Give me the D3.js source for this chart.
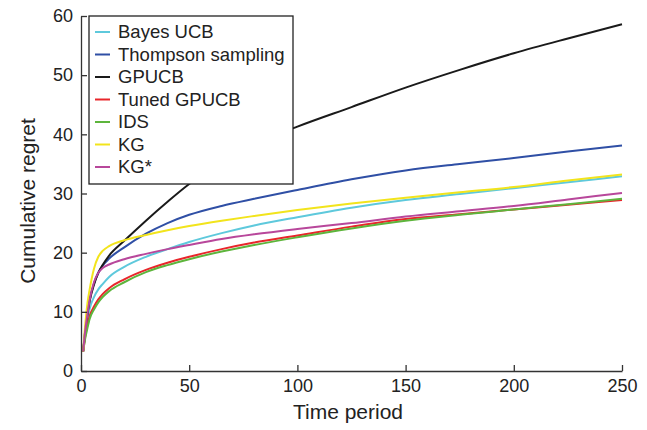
<!DOCTYPE html>
<html>
<head>
<meta charset="utf-8">
<script src="https://cdn.jsdelivr.net/npm/d3@7"></script>
<style>
  body { margin: 0; background: #fff; }
  text { font-family: Arial, "Liberation Sans", Helvetica, sans-serif; fill: #222; }
</style>
</head>
<body>
<div class="chart"></div>
<script>
const periods = [1, 2, 3, 4, 6, 8, 10, 13, 20, 30, 40, 50, 65, 80, 100, 125, 150, 175, 200, 225, 250];

const bayesUCB   = [3.3, 6.5, 8.7, 10.5, 12.5, 13.8, 14.7, 15.9, 17.6, 19.3, 20.6, 21.8, 23.3, 24.6, 26.0, 27.6, 28.9, 29.9, 30.9, 31.9, 32.9];
const thompson   = [3.3, 7.0, 9.8, 12.0, 14.8, 16.6, 17.8, 19.0, 20.9, 23.2, 25.0, 26.4, 27.9, 29.1, 30.6, 32.4, 33.9, 35.0, 36.0, 37.1, 38.1];
const gpucb      = [3.3, 6.8, 9.6, 11.8, 14.6, 16.6, 17.9, 19.5, 22.0, 25.4, 28.6, 31.6, 35.2, 38.3, 41.3, 44.6, 47.9, 50.9, 53.7, 56.2, 58.6];
const tunedGPUCB = [3.3, 6.0, 7.8, 9.3, 10.9, 12.1, 13.0, 14.0, 15.5, 17.1, 18.3, 19.3, 20.6, 21.7, 22.9, 24.4, 25.7, 26.5, 27.3, 28.1, 28.9];
const ids        = [3.3, 5.6, 7.3, 8.8, 10.4, 11.6, 12.5, 13.5, 15.0, 16.7, 17.9, 18.9, 20.2, 21.3, 22.6, 24.1, 25.4, 26.4, 27.3, 28.2, 29.1];
const kg         = [3.3, 8.0, 11.5, 13.8, 17.3, 19.3, 20.3, 21.1, 22.1, 23.0, 23.8, 24.5, 25.4, 26.2, 27.2, 28.3, 29.3, 30.2, 31.1, 32.2, 33.2];
const kgStar     = [3.3, 7.0, 9.7, 12.0, 15.0, 16.6, 17.4, 18.0, 18.9, 19.8, 20.6, 21.3, 22.3, 23.1, 24.0, 25.0, 26.1, 27.0, 27.9, 29.0, 30.1];

const methods = ['Bayes UCB', 'Thompson sampling', 'GPUCB', 'Tuned GPUCB', 'IDS', 'KG', 'KG*'];
const seriesValues = [bayesUCB, thompson, gpucb, tunedGPUCB, ids, kg, kgStar];

const xTicks = [0, 50, 100, 150, 200, 250];
const yTicks = [0, 10, 20, 30, 40, 50, 60];

const colors = ['#5ec9dc', '#2f4fa5', '#1a1a1a', '#e8262b', '#5db53c', '#f2e41c', '#b8479b'];

const width = 647, height = 430;
const svg = d3.select('.chart')
    .append('svg')
    .attr('width', width)
    .attr('height', height);

const xScale = d3.scaleLinear()
    .domain([0, 250])
    .range([81, 622]);

const yScale = d3.scaleLinear()
    .domain([0, 60])
    .range([371, 16]);

const color = d3.scaleOrdinal()
    .domain(methods)
    .range(colors);

const series = methods.map((m, i) => ({
    name: m,
    values: periods.map((t, j) => ({t: t, v: seriesValues[i][j]}))
}));

const line = d3.line()
    .x(d => xScale(d.t))
    .y(d => yScale(d.v))
    .curve(d3.curveMonotoneX);

svg.selectAll('.series')
    .data(series)
    .enter()
    .append('path')
    .attr('class', 'series')
    .attr('d', d => line(d.values))
    .attr('fill', 'none')
    .attr('stroke', d => color(d.name))
    .attr('stroke-width', 2);

// axes, ticks pointing inward
const xAxis = d3.axisBottom(xScale)
    .tickValues(xTicks)
    .tickSizeInner(-6)
    .tickSizeOuter(0)
    .tickPadding(8);

const yAxis = d3.axisLeft(yScale)
    .tickValues(yTicks)
    .tickSizeInner(-6)
    .tickSizeOuter(0)
    .tickPadding(8);

const gx = svg.append('g')
    .attr('transform', `translate(0, ${yScale(0)})`)
    .call(xAxis);

const gy = svg.append('g')
    .attr('transform', `translate(${xScale(0)}, 0)`)
    .call(yAxis);

[gx, gy].forEach(g => {
    g.attr('font-family', null).attr('font-size', null);
    g.selectAll('path, line').attr('stroke', '#333').attr('stroke-width', 1.3);
    g.selectAll('text').attr('font-size', 18).attr('fill', '#222');
});

svg.append('text')
    .attr('x', 348)
    .attr('y', 419)
    .attr('text-anchor', 'middle')
    .attr('font-size', 21)
    .text('Time period');

svg.append('text')
    .attr('transform', 'translate(35, 201) rotate(-90)')
    .attr('text-anchor', 'middle')
    .attr('font-size', 21)
    .text('Cumulative regret');

// legend
const legend = svg.append('g');

legend.append('rect')
    .attr('x', 89)
    .attr('y', 16)
    .attr('width', 204)
    .attr('height', 168)
    .attr('fill', '#fff')
    .attr('stroke', '#222')
    .attr('stroke-width', 1.3);

legend.selectAll('.legend-line')
    .data(methods)
    .enter()
    .append('line')
    .attr('x1', 95)
    .attr('x2', 110)
    .attr('y1', (d, i) => 32 + i * 22.5)
    .attr('y2', (d, i) => 32 + i * 22.5)
    .attr('stroke', d => color(d))
    .attr('stroke-width', 2);

legend.selectAll('.legend-text')
    .data(methods)
    .enter()
    .append('text')
    .attr('x', 118)
    .attr('y', (d, i) => 32 + i * 22.5)
    .attr('dy', '0.35em')
    .attr('font-size', 18.5)
    .text(d => d);
</script>
</body>
</html>
